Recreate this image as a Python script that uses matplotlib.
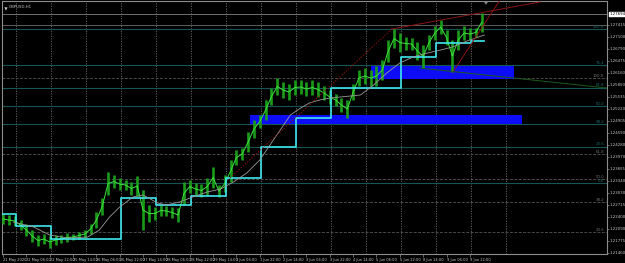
import matplotlib
matplotlib.use("Agg")
import matplotlib.pyplot as plt
from matplotlib.patches import Rectangle, Polygon

plt.rcParams["font.family"] = ["Liberation Sans Narrow", "DejaVu Sans"]

# GBPUSD H1, bar 0 = 21 May 2020 14:00, one bar per hour (weekends skipped)
bar_idx = list(range(0, 329, 4))
bar_high = [1.22475, 1.22449, 1.22422, 1.22318, 1.22214, 1.22057, 1.21927, 1.21953, 1.21900, 1.21927,
            1.21927, 1.21979, 1.21953, 1.22005, 1.22057, 1.22214, 1.22527, 1.22892, 1.23571, 1.23493,
            1.23414, 1.23362, 1.23310, 1.23467, 1.23101, 1.22710, 1.22657, 1.22710, 1.22683, 1.22657,
            1.22631, 1.23310, 1.23362, 1.23284, 1.23258, 1.23414, 1.23701, 1.23232, 1.23493, 1.23884,
            1.24145, 1.24197, 1.24615, 1.24928, 1.25059, 1.25450, 1.25763, 1.26024, 1.25920, 1.25868,
            1.25972, 1.25972, 1.25920, 1.25972, 1.25920, 1.25815, 1.25711, 1.25607, 1.25502, 1.25450,
            1.25868, 1.26233, 1.26285, 1.26233, 1.26337, 1.26494, 1.27016, 1.27303, 1.27199, 1.27094,
            1.27068, 1.26964, 1.26886, 1.27147, 1.27381, 1.27538, 1.27277, 1.27016, 1.27277, 1.27381,
            1.27329, 1.27329, 1.27721]
bar_low = [1.22214, 1.22188, 1.22161, 1.22057, 1.21900, 1.21744, 1.21639, 1.21692, 1.21587, 1.21666,
           1.21718, 1.21744, 1.21796, 1.21822, 1.21848, 1.21953, 1.22109, 1.22449, 1.22971, 1.23153,
           1.23101, 1.23101, 1.22971, 1.22944, 1.22057, 1.22266, 1.22318, 1.22422, 1.22422, 1.22370,
           1.22266, 1.22710, 1.23023, 1.22971, 1.22918, 1.22971, 1.23153, 1.22918, 1.23049, 1.23310,
           1.23754, 1.23884, 1.24093, 1.24458, 1.24719, 1.24928, 1.25320, 1.25581, 1.25502, 1.25450,
           1.25581, 1.25607, 1.25554, 1.25581, 1.25528, 1.25450, 1.25346, 1.25293, 1.25137, 1.24980,
           1.25450, 1.25815, 1.25868, 1.25815, 1.25815, 1.25972, 1.26442, 1.26807, 1.26703, 1.26755,
           1.26755, 1.26494, 1.26285, 1.26755, 1.27016, 1.27173, 1.26886, 1.26181, 1.26755, 1.27016,
           1.27016, 1.27094, 1.27225]
last_price = 1.27694

# slow moving average (grey)
ma_bars = [7, 21, 32, 44, 58, 66, 73, 80, 89, 96, 106, 112, 121, 130, 140, 149, 158, 167, 176,
           183, 190, 197, 204, 210, 217, 224, 231, 238, 245, 254, 263, 272, 281, 291, 300, 308, 318, 330]
ma_vals = [1.22266, 1.22135, 1.21927, 1.21848, 1.21874, 1.22057, 1.22396, 1.22657, 1.22918, 1.22971,
           1.22762, 1.22710, 1.22788, 1.22918, 1.23049, 1.23127, 1.23310, 1.23545, 1.23884, 1.24276,
           1.24667, 1.25059, 1.25241, 1.25372, 1.25450, 1.25502, 1.25528, 1.25554, 1.25581, 1.25842,
           1.26155, 1.26416, 1.26572, 1.26677, 1.26755, 1.26833, 1.26990, 1.27147]

# daily average drawn on H1 (cyan steps)
step_bars = [0, 9, 33, 81, 105, 129, 153, 177, 201, 225, 273, 297, 321, 330]
step_vals = [1.22475, 1.22161, 1.21822, 1.22892, 1.22710, 1.22944, 1.23414, 1.24223, 1.24980,
             1.25763, 1.26572, 1.26938, 1.26990]

# fibonacci levels
teal_levels = [1.27303, 1.26355, 1.25768, 1.25294, 1.24819, 1.24232, 1.23284]
teal_labels = ["100.0", "76.4", "61.8", "50.0", "38.2", "23.6", "0.0"]
grey_levels = [1.26024, 1.24041, 1.23388, 1.22788, 1.22005]
grey_labels = ["100.0", "61.8", "50.0", "38.2", "23.6"]
extra_level = 1.27407

# zones (bar_from, bar_to, price_low, price_high)
zone_upper = (252, 350, 1.25998, 1.26337)
zone_lower = (169, 356, 1.24824, 1.25059)

# trendlines ((bar, price), (bar, price))
tl_dotted = ((155.6, 1.23414), (266.6, 1.27303))
tl_upper = ((266.6, 1.27303), (368, 1.28008))
tl_steep = ((308.4, 1.26181), (340.6, 1.28060))
tl_green = ((285.8, 1.26285), (414, 1.25763))

xtick_bars = list(range(0, 321, 16))
xtick_labels = ["21 May 2020", "22 May 06:00", "22 May 22:00", "25 May 14:00", "26 May 06:00",
                "26 May 22:00", "27 May 14:00", "28 May 06:00", "28 May 22:00", "29 May 14:00",
                "1 Jun 06:00", "1 Jun 22:00", "2 Jun 14:00", "3 Jun 06:00", "3 Jun 22:00",
                "4 Jun 14:00", "5 Jun 06:00", "5 Jun 22:00", "8 Jun 14:00", "9 Jun 06:00",
                "9 Jun 22:00"]
ytick_vals = [1.27415, 1.27100, 1.26790, 1.26475, 1.26160, 1.25850, 1.25535, 1.25220, 1.24905,
              1.24590, 1.24280, 1.23970, 1.23655, 1.23340, 1.23030, 1.22715, 1.22400, 1.22090,
              1.21775, 1.21460]
grid_bars = list(range(9, 346, 24))

W, H = 625, 263
fig = plt.figure(figsize=(W / 100, H / 100), dpi=100, facecolor="black")
ax = fig.add_axes([2 / W, (H - 254) / H, 605 / W, 253 / H], facecolor="black")
ax.set_xlim(-0.7, 414)
ax.set_ylim(1.21431, 1.28034)

for b in grid_bars:
    ax.axvline(b, color="#6a6a6a", lw=0.6, ls=(0, (1.5, 1.5)), zorder=1)

# horizontal levels
ax.axhline(last_price, color="#6e6e6e", lw=0.7, zorder=2)
ax.axhline(extra_level, color="#5a5a5a", lw=0.7, zorder=2)
for lv, lb in zip(teal_levels, teal_labels):
    ax.axhline(lv, color="#175454", lw=0.8, zorder=2)
    ax.text(412, lv + 0.00012, lb, color="#1d6a6a", fontsize=2.8, ha="right", va="bottom")
for lv, lb in zip(grey_levels, grey_labels):
    ax.axhline(lv, color="#4a4a4a", lw=0.7, ls=(0, (3, 1.5)), zorder=2)
    ax.text(412, lv + 0.00012, lb, color="#707070", fontsize=2.8, ha="right", va="bottom")

for z in (zone_upper, zone_lower):
    ax.add_patch(Rectangle((z[0], z[2]), z[1] - z[0], z[3] - z[2], color="#0d0df5", lw=0, zorder=3))

# price bars
mid = [(h + l) / 2 for h, l in zip(bar_high, bar_low)]
ax.vlines(bar_idx, bar_low, bar_high, color="#1a9c1a", lw=1.9, zorder=4)
ax.plot(bar_idx, mid, color="#3ee23e", lw=0.7, zorder=5)

ax.step(step_bars, step_vals + [step_vals[-1]], where="post", color="#3ee8f0", lw=1.2, zorder=6)
ax.plot(ma_bars, ma_vals, color="#9a9a9a", lw=0.6, zorder=6)

(x0, y0), (x1, y1) = tl_dotted
ax.plot([x0, x1], [y0, y1], color="#8a1010", lw=0.7, ls=(0, (1.5, 1.5)), zorder=6)
for (x0, y0), (x1, y1) in (tl_upper, tl_steep):
    ax.plot([x0, x1], [y0, y1], color="#8a1414", lw=0.7, zorder=6)
(x0, y0), (x1, y1) = tl_green
ax.plot([x0, x1], [y0, y1], color="#1a5a1a", lw=0.7, zorder=6)

# axes styling
for s in ax.spines.values():
    s.set_color("#8c8c8c")
    s.set_linewidth(0.8)
ax.yaxis.tick_right()
ax.set_yticks(ytick_vals)
ax.set_yticklabels([f"{v:.5f}" for v in ytick_vals])
ax.set_xticks(xtick_bars)
ax.set_xticklabels(xtick_labels, ha="left")
ax.tick_params(axis="x", colors="#8c8c8c", labelcolor="#c8c8c8", labelsize=2.6,
               length=2, width=0.5, pad=1)
ax.tick_params(axis="y", colors="#8c8c8c", labelcolor="#c8c8c8", labelsize=2.8,
               length=1.5, width=0.5, pad=0.4)

# current price box
ax.annotate(f"{last_price:.5f}", xy=(1.0, last_price), xycoords=("axes fraction", "data"),
            xytext=(1.5, 0), textcoords="offset points", va="center", ha="left",
            fontsize=2.8, color="black",
            bbox=dict(boxstyle="square,pad=0.12", fc="white", ec="white"))

ax.text(0.011, 0.985, "GBPUSD,H1", transform=ax.transAxes, color="#c8c8c8",
        fontsize=2.8, ha="left", va="top")
ax.add_patch(Polygon([[0.004, 0.975], [0.009, 0.975], [0.0065, 0.962]], closed=True,
                     transform=ax.transAxes, color="#d0d0d0", lw=0))
ax.add_patch(Polygon([[0.796, 1.0], [0.804, 1.0], [0.800, 0.985]], closed=True,
                     transform=ax.transAxes, color="#8c8c8c", lw=0, clip_on=False))

fig.savefig("out.png", dpi=100, facecolor="black")
